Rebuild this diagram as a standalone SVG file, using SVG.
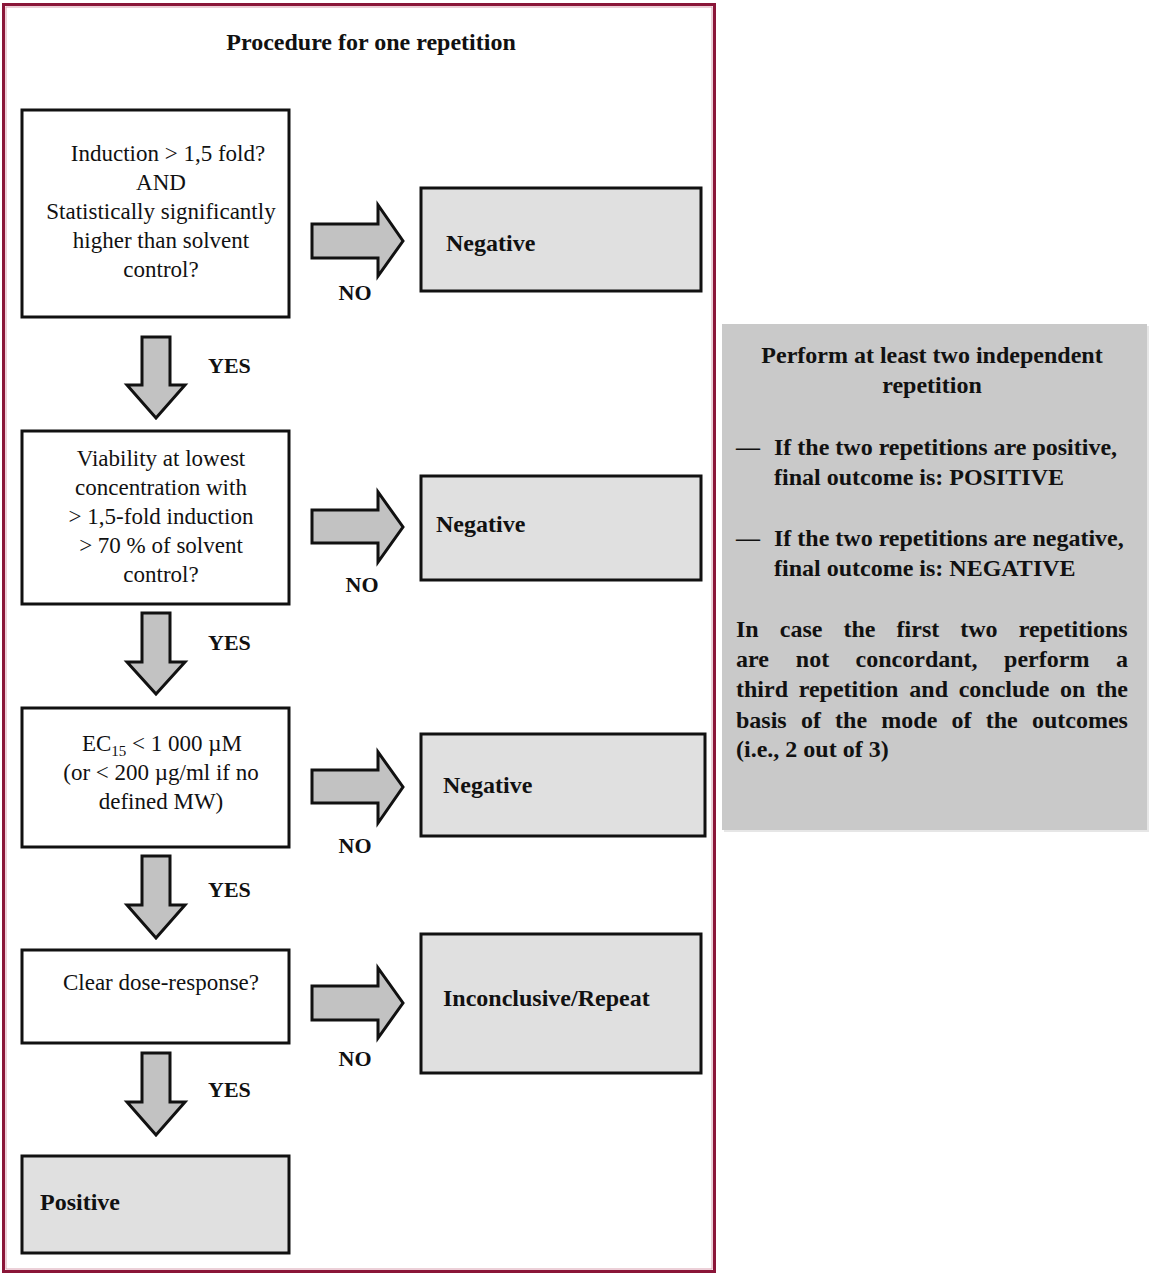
<svg xmlns="http://www.w3.org/2000/svg" width="1150" height="1275" viewBox="0 0 1150 1275">
<style>
.bx{fill:#ffffff;stroke:#111111;stroke-width:3}
.gx{fill:#e0e0e0;stroke:#111111;stroke-width:3}
.ar{fill:#c2c2c2;stroke:#111111;stroke-width:3;stroke-linejoin:miter}
.t{font-family:"Liberation Serif","Times New Roman",serif;font-size:23px;fill:#111;text-anchor:middle}
.b{font-family:"Liberation Serif","Times New Roman",serif;font-size:24px;font-weight:bold;fill:#111}
.lb{font-family:"Liberation Serif","Times New Roman",serif;font-size:22px;font-weight:bold;fill:#111}
.rb{font-family:"Liberation Serif","Times New Roman",serif;font-size:24px;font-weight:bold;fill:#111}
</style>
<rect x="0" y="0" width="1150" height="1275" fill="#ffffff"/>
<g id="frame">
<rect x="3.5" y="4.5" width="711" height="1267" fill="none" stroke="#8a1538" stroke-width="3"/>
<rect x="6" y="7" width="706" height="1262" fill="none" stroke="#d9a0b0" stroke-width="1"/>
<text class="b" x="371" y="50" text-anchor="middle">Procedure for one repetition</text>
</g>
<g id="q1">
<rect class="bx" x="22" y="110" width="267" height="207"/>
<text class="t" x="168" y="161">Induction &gt; 1,5 fold?</text>
<text class="t" x="161" y="190">AND</text>
<text class="t" x="161" y="219">Statistically significantly</text>
<text class="t" x="161" y="248">higher than solvent</text>
<text class="t" x="161" y="277">control?</text>
</g>
<g id="neg1">
<rect class="gx" x="421" y="188" width="280" height="103"/>
<text class="b" x="446" y="251">Negative</text>
</g>
<g id="q2">
<rect class="bx" x="22" y="431" width="267" height="173"/>
<text class="t" x="161" y="466">Viability at lowest</text>
<text class="t" x="161" y="495">concentration with</text>
<text class="t" x="161" y="524">&gt; 1,5-fold induction</text>
<text class="t" x="161" y="553">&gt; 70 % of solvent</text>
<text class="t" x="161" y="582">control?</text>
</g>
<g id="neg2">
<rect class="gx" x="421" y="476" width="280" height="104"/>
<text class="b" x="436" y="532">Negative</text>
</g>
<g id="q3">
<rect class="bx" x="22" y="708" width="267" height="139"/>
<text class="t" x="162" y="751">EC<tspan font-size="15" dy="5">15</tspan><tspan dy="-5"> &lt; 1 000 µM</tspan></text>
<text class="t" x="161" y="780">(or &lt; 200 µg/ml if no</text>
<text class="t" x="161" y="809">defined MW)</text>
</g>
<g id="neg3">
<rect class="gx" x="421" y="734" width="284" height="102"/>
<text class="b" x="443" y="793">Negative</text>
</g>
<g id="q4">
<rect class="bx" x="22" y="950" width="267" height="93"/>
<text class="t" x="161" y="990">Clear dose-response?</text>
</g>
<g id="inconclusive">
<rect class="gx" x="421" y="934" width="280" height="139"/>
<text class="b" x="443" y="1006">Inconclusive/Repeat</text>
</g>
<g id="positive">
<rect class="gx" x="22" y="1156" width="267" height="97"/>
<text class="b" x="40" y="1210">Positive</text>
</g>
<g id="connectors">
<path class="ar" d="M312,224 H378 V205 L403,241 L378,276 V258 H312 Z"/>
<path class="ar" d="M312,510 H378 V492 L403,527 L378,562 V543 H312 Z"/>
<path class="ar" d="M312,770 H378 V752 L403,787 L378,823 V803 H312 Z"/>
<path class="ar" d="M312,986 H378 V968 L403,1003 L378,1038 V1020 H312 Z"/>
<path class="ar" d="M142,337 H170 V385 H185 L156,418 L127,385 H142 Z"/>
<path class="ar" d="M142,613 H170 V662 H185 L156,694 L127,662 H142 Z"/>
<path class="ar" d="M142,856 H170 V905 H185 L156,938 L127,905 H142 Z"/>
<path class="ar" d="M142,1053 H170 V1102 H185 L156,1135 L127,1102 H142 Z"/>
<text class="lb" x="355" y="300" text-anchor="middle">NO</text>
<text class="lb" x="362" y="592" text-anchor="middle">NO</text>
<text class="lb" x="355" y="853" text-anchor="middle">NO</text>
<text class="lb" x="355" y="1066" text-anchor="middle">NO</text>
<text class="lb" x="208" y="373">YES</text>
<text class="lb" x="208" y="650">YES</text>
<text class="lb" x="208" y="897">YES</text>
<text class="lb" x="208" y="1097">YES</text>
</g>
<g id="rules">
<rect x="724" y="326" width="425" height="506" fill="#e6e6e6"/>
<rect x="722" y="324" width="425" height="506" fill="#c9c9c9"/>
<text class="rb" x="932" y="363" text-anchor="middle">Perform at least two independent</text>
<text class="rb" x="932" y="393" text-anchor="middle">repetition</text>
<text class="rb" x="736" y="455">—</text>
<text class="rb" x="774" y="455">If the two repetitions are positive,</text>
<text class="rb" x="774" y="485">final outcome is: POSITIVE</text>
<text class="rb" x="736" y="546">—</text>
<text class="rb" x="774" y="546">If the two repetitions are negative,</text>
<text class="rb" x="774" y="576">final outcome is: NEGATIVE</text>
<text class="rb" y="637"><tspan x="736">In</tspan><tspan x="779.8">case</tspan><tspan x="843.5">the</tspan><tspan x="896.6">first</tspan><tspan x="960.3">two</tspan><tspan x="1018.7">repetitions</tspan></text>
<text class="rb" y="667"><tspan x="736">are</tspan><tspan x="795.8">not</tspan><tspan x="855.6">concordant,</tspan><tspan x="1004.1">perform</tspan><tspan x="1115.9">a</tspan></text>
<text class="rb" y="697"><tspan x="736">third</tspan><tspan x="798.7">repetition</tspan><tspan x="909.3">and</tspan><tspan x="958.7">conclude</tspan><tspan x="1060">on</tspan><tspan x="1096">the</tspan></text>
<text class="rb" y="728"><tspan x="736">basis</tspan><tspan x="800.9">of</tspan><tspan x="835.1">the</tspan><tspan x="881.3">mode</tspan><tspan x="951.5">of</tspan><tspan x="985.7">the</tspan><tspan x="1031.9">outcomes</tspan></text>
<text class="rb" x="736" y="757">(i.e., 2 out of 3)</text>
</g>
</svg>
